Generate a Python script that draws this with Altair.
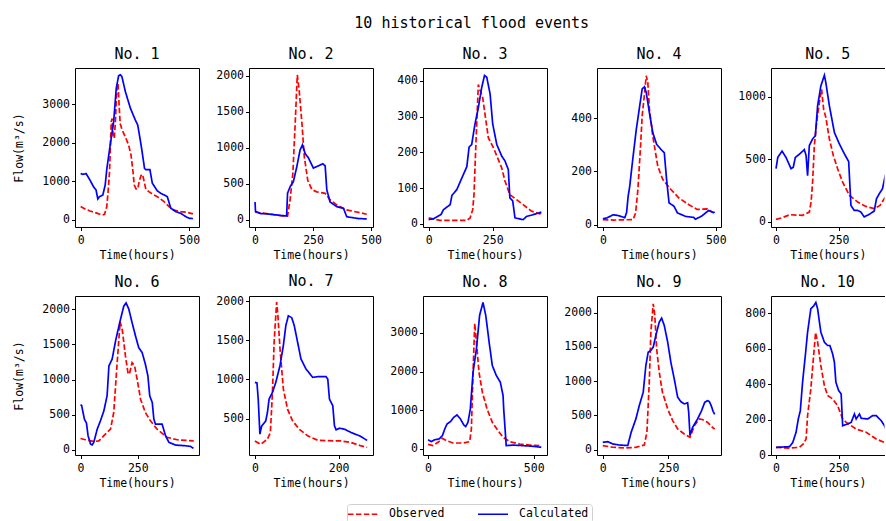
import altair as alt
import pandas as pd

FONT = "DejaVu Sans Mono"
SERIES = ["Observed", "Calculated"]
COLORS = ["#ff0000", "#0000ff"]
DASHES = [[5.5, 2.4], [1, 0]]

# ---- data (hours, m3/s) ----
E1_obs_t = [0, 20, 43, 75, 97, 110, 120, 126, 133, 141, 145, 150, 155, 160, 167, 172, 177, 182, 190, 206, 221, 232, 241, 247, 255, 263, 270, 278, 285, 291, 300, 314, 335, 353, 384, 407, 430, 461, 492, 517]
E1_obs_q = [340, 280, 225, 170, 120, 140, 330, 700, 1250, 2550, 2630, 2150, 2120, 2550, 3450, 3540, 3000, 2500, 2350, 2150, 1940, 1680, 1250, 900, 800, 800, 1000, 1150, 1180, 1030, 800, 730, 650, 600, 470, 340, 250, 210, 190, 150]
E1_calc_t = [0, 10, 20, 25, 43, 59, 71, 79, 87, 102, 113, 121, 136, 152, 164, 175, 183, 190, 206, 229, 252, 263, 272, 283, 294, 300, 319, 330, 353, 368, 399, 415, 438, 461, 484, 500, 517]
E1_calc_q = [1200, 1180, 1190, 1200, 1030, 860, 770, 540, 600, 640, 900, 1340, 1940, 2550, 3420, 3745, 3770, 3720, 3330, 2900, 2590, 2460, 2160, 1770, 1335, 1300, 1300, 950, 750, 690, 600, 300, 210, 165, 80, 35, 30]

E2_obs_t = [0, 50, 108, 140, 151, 163, 173, 182, 190, 202, 212, 227, 245, 266, 302, 323, 352, 395, 453, 481]
E2_obs_q = [110, 90, 60, 55, 280, 650, 1340, 2010, 1800, 1340, 880, 550, 420, 390, 370, 280, 210, 140, 100, 80]
E2_calc_t = [0, 2, 22, 50, 93, 136, 140, 151, 165, 180, 194, 204, 216, 230, 251, 273, 292, 302, 309, 323, 352, 381, 395, 445, 481]
E2_calc_q = [250, 120, 90, 85, 70, 55, 370, 460, 530, 740, 970, 1040, 920, 860, 720, 750, 780, 750, 420, 250, 185, 160, 45, 20, 15]

E3_obs_t = [0, 45, 149, 162, 172, 177, 185, 194, 200, 211, 220, 233, 253, 272, 285, 298, 317, 343, 369, 401, 434, 440]
E3_obs_q = [17, 10, 10, 17, 40, 82, 232, 390, 375, 353, 307, 241, 213, 180, 157, 120, 82, 68, 54, 36, 28, 30]
E3_calc_t = [0, 20, 48, 58, 84, 91, 110, 130, 149, 158, 168, 181, 194, 207, 218, 227, 240, 250, 266, 285, 298, 311, 317, 328, 337, 369, 382, 408, 440]
E3_calc_q = [12, 15, 26, 40, 54, 80, 96, 129, 160, 215, 222, 280, 325, 381, 415, 410, 363, 280, 222, 190, 176, 152, 73, 65, 17, 12, 21, 26, 33]

E4_obs_t = [0, 46, 134, 145, 155, 166, 174, 185, 192, 199, 206, 221, 243, 265, 301, 337, 381, 417, 461, 490]
E4_obs_q = [19, 17, 19, 44, 132, 283, 409, 497, 560, 535, 434, 333, 220, 170, 132, 100, 75, 57, 59, 45]
E4_calc_t = [0, 17, 46, 68, 97, 105, 112, 119, 134, 148, 163, 174, 184, 192, 206, 221, 238, 257, 272, 282, 293, 315, 330, 366, 402, 410, 439, 468, 490, 495]
E4_calc_q = [22, 25, 37, 34, 26, 45, 107, 145, 258, 358, 446, 510, 518, 497, 421, 346, 302, 283, 270, 170, 82, 69, 44, 31, 27, 20, 33, 53, 45, 48]

E5_obs_t = [0, 21, 55, 106, 133, 140, 146, 153, 162, 173, 182, 190, 199, 213, 229, 246, 266, 293, 326, 359, 392, 415, 432, 445, 457]
E5_obs_q = [21, 32, 58, 53, 79, 159, 317, 609, 794, 952, 1058, 900, 833, 662, 529, 424, 317, 212, 159, 124, 106, 132, 185, 230, 260]
E5_calc_t = [0, 7, 24, 40, 60, 69, 77, 93, 113, 120, 126, 133, 146, 157, 166, 179, 193, 199, 213, 233, 253, 273, 290, 299, 312, 325, 339, 352, 372, 392, 401, 412, 425, 436, 447, 457]
E5_calc_q = [425, 515, 565, 515, 425, 437, 515, 540, 577, 530, 370, 610, 662, 688, 926, 1085, 1170, 1110, 926, 714, 622, 543, 482, 132, 93, 93, 79, 40, 61, 87, 185, 225, 265, 371, 430, 470]

E6_obs_t = [0, 22, 58, 80, 102, 131, 145, 160, 173, 182, 196, 208, 215, 225, 236, 247, 262, 283, 305, 334, 378, 422, 494]
E6_obs_q = [160, 142, 118, 125, 200, 294, 530, 1241, 1820, 1715, 1336, 1076, 1100, 1240, 1194, 1005, 720, 530, 412, 294, 176, 142, 125]
E6_calc_t = [0, 5, 17, 26, 33, 44, 51, 58, 73, 87, 102, 116, 124, 138, 153, 171, 189, 199, 211, 225, 240, 254, 269, 283, 294, 302, 313, 320, 327, 356, 371, 386, 415, 458, 480, 493]
E6_calc_q = [640, 630, 436, 380, 200, 80, 70, 105, 294, 412, 554, 768, 1194, 1290, 1549, 1810, 2047, 2090, 2000, 1810, 1620, 1454, 1383, 1218, 1052, 768, 673, 436, 365, 365, 199, 104, 66, 57, 47, 20]

E7_obs_t = [0, 14, 30, 37, 42, 46, 52, 55, 60, 68, 78, 90, 106, 126, 150, 190, 206, 230, 254, 268]
E7_obs_q = [213, 170, 235, 320, 834, 1477, 1990, 1820, 1391, 877, 620, 470, 363, 278, 222, 213, 213, 192, 149, 130]
E7_calc_t = [0, 5, 8, 12, 16, 26, 30, 34, 42, 50, 60, 68, 74, 80, 88, 94, 102, 110, 122, 138, 150, 170, 174, 178, 186, 190, 194, 202, 214, 230, 250, 268]
E7_calc_q = [963, 955, 750, 300, 400, 470, 577, 750, 834, 963, 1177, 1434, 1691, 1815, 1790, 1691, 1477, 1263, 1134, 1027, 1035, 1035, 1006, 750, 663, 406, 355, 376, 363, 320, 278, 220]

E8_obs_t = [0, 23, 47, 68, 87, 118, 166, 197, 205, 213, 221, 229, 241, 257, 279, 304, 331, 355, 386, 434, 481, 528]
E8_obs_q = [120, 86, 172, 276, 215, 155, 155, 189, 518, 1987, 3250, 2766, 1987, 1469, 1037, 691, 475, 302, 189, 129, 103, 86]
E8_calc_t = [0, 16, 32, 52, 68, 79, 90, 106, 122, 137, 153, 169, 178, 189, 200, 213, 229, 244, 260, 273, 289, 304, 323, 342, 355, 358, 370, 401, 449, 496, 536]
E8_calc_q = [240, 190, 240, 260, 345, 518, 648, 709, 820, 880, 777, 622, 579, 691, 1037, 1987, 2593, 3457, 3790, 3457, 2766, 2160, 1901, 1728, 1383, 1037, 86, 100, 86, 69, 43]

E9_obs_t = [0, 38, 89, 126, 158, 168, 177, 183, 192, 198, 205, 215, 227, 247, 266, 285, 310, 332, 349, 368, 379, 398, 417, 426]
E9_obs_q = [59, 35, 25, 34, 68, 253, 985, 1717, 2130, 1961, 1473, 1132, 839, 595, 424, 303, 229, 180, 351, 449, 440, 400, 327, 300]
E9_calc_t = [0, 19, 38, 63, 95, 108, 126, 139, 154, 164, 173, 183, 192, 202, 215, 224, 234, 247, 259, 272, 285, 297, 310, 323, 327, 332, 342, 361, 375, 388, 398, 405, 412, 420, 426]
E9_calc_q = [107, 117, 83, 68, 60, 253, 449, 644, 839, 1229, 1424, 1449, 1497, 1668, 1863, 1920, 1814, 1571, 1278, 1034, 766, 702, 668, 683, 546, 205, 327, 449, 560, 690, 715, 705, 650, 560, 515]

E10_obs_t = [0, 54, 93, 109, 120, 126, 139, 149, 158, 166, 179, 193, 206, 226, 246, 266, 280, 320, 360, 400, 433, 457]
E10_obs_q = [43, 39, 43, 62, 90, 222, 373, 542, 690, 636, 504, 391, 335, 316, 278, 203, 184, 146, 128, 90, 71, 55]
E10_calc_t = [0, 54, 67, 80, 89, 97, 106, 117, 126, 139, 150, 159, 166, 179, 193, 206, 215, 226, 233, 239, 250, 260, 266, 286, 300, 313, 320, 333, 340, 366, 386, 400, 420, 433, 445, 457]
E10_calc_q = [43, 47, 71, 128, 203, 250, 410, 561, 692, 824, 839, 860, 824, 692, 636, 617, 617, 570, 523, 410, 363, 344, 165, 175, 184, 231, 203, 231, 207, 203, 222, 222, 193, 165, 120, 100]

EVENTS = [
    (E1_obs_t, E1_obs_q, E1_calc_t, E1_calc_q),
    (E2_obs_t, E2_obs_q, E2_calc_t, E2_calc_q),
    (E3_obs_t, E3_obs_q, E3_calc_t, E3_calc_q),
    (E4_obs_t, E4_obs_q, E4_calc_t, E4_calc_q),
    (E5_obs_t, E5_obs_q, E5_calc_t, E5_calc_q),
    (E6_obs_t, E6_obs_q, E6_calc_t, E6_calc_q),
    (E7_obs_t, E7_obs_q, E7_calc_t, E7_calc_q),
    (E8_obs_t, E8_obs_q, E8_calc_t, E8_calc_q),
    (E9_obs_t, E9_obs_q, E9_calc_t, E9_calc_q),
    (E10_obs_t, E10_obs_q, E10_calc_t, E10_calc_q),
]

X_DOMAINS = [[-26, 545], [-26, 508], [-22, 462], [-26, 523], [-20, 433],
             [-24, 517], [-14, 282], [-24, 563], [-22, 450], [-20, 433]]
Y_DOMAINS = [[-190, 3945], [-97, 2106], [-8.5, 436], [-9, 589], [-40, 1228],
             [-75, 2189], [33, 2068], [-156, 3957], [-78, 2243], [0, 896]]
X_TICKS = [[0, 500], [0, 250, 500], [0, 250], [0, 500], [0, 250],
           [0, 250], [0, 200], [0, 500], [0, 250], [0, 250]]
Y_TICKS = [[0, 1000, 2000, 3000], [0, 500, 1000, 1500, 2000], [0, 100, 200, 300, 400],
           [0, 200, 400], [0, 500, 1000], [0, 500, 1000, 1500, 2000],
           [500, 1000, 1500, 2000], [0, 1000, 2000, 3000], [0, 500, 1000, 1500, 2000],
           [0, 200, 400, 600, 800]]

W, H = 124, 159
W_LAST = 113.5  # last column is cut by the figure edge

legend_opts = dict(
    orient="none", legendX=272, legendY=436, direction="horizontal", title=None,
    symbolType="M-2.5,0L2.5,0", symbolSize=144, symbolStrokeWidth=1.6,
    symbolOffset=6, labelOffset=19, columnPadding=29,
    labelFont=FONT, labelFontSize=11.5, labelColor="black",
    padding=3, strokeColor="#d0d0d0", fillColor="white", cornerRadius=3,
)


def panel(i):
    ot, oq, ct, cq = EVENTS[i]
    last = (i % 5 == 4)
    w = W_LAST if last else W
    df = pd.DataFrame({
        "t": list(ot) + list(ct),
        "q": list(oq) + list(cq),
        "series": ["Observed"] * len(ot) + ["Calculated"] * len(ct),
    })
    ytitle = "Flow(m³/s)" if i % 5 == 0 else None
    base = alt.Chart(df).mark_line(strokeWidth=1.7, clip=True).encode(
        x=alt.X("t:Q", scale=alt.Scale(domain=X_DOMAINS[i], nice=False, zero=False),
                axis=alt.Axis(values=X_TICKS[i], title="Time(hours)", format="d")),
        y=alt.Y("q:Q", scale=alt.Scale(domain=Y_DOMAINS[i], nice=False, zero=False),
                axis=alt.Axis(values=Y_TICKS[i], title=ytitle, format="d")),
        color=alt.Color("series:N", scale=alt.Scale(domain=SERIES, range=COLORS),
                        legend=alt.Legend(**legend_opts)),
        strokeDash=alt.StrokeDash("series:N", scale=alt.Scale(domain=SERIES, range=DASHES),
                                  legend=alt.Legend(**legend_opts)),
    )
    layers = [base.transform_filter(alt.datum.series == "Observed"),
              base.transform_filter(alt.datum.series == "Calculated")]
    props = dict(
        width=w, height=H,
        title=alt.TitleParams(f"No. {i + 1}", fontSize=15, font=FONT,
                              fontWeight="normal", offset=6, anchor="middle"),
    )
    if last:
        # frame drawn on top, bottom and left only: the right side is cut off
        props["view"] = alt.ViewBackground(
            stroke="black", strokeWidth=1,
            strokeDash=[w, H, w + H + 1, 1],
        )
    return alt.layer(*layers).properties(**props)


chart = alt.concat(*[panel(i) for i in range(10)], columns=5).properties(
    bounds="flush",
    spacing={"row": 69, "column": 50},
    title=alt.TitleParams("10 historical flood events", fontSize=15, font=FONT,
                          fontWeight="normal", anchor="middle", offset=16,
                          frame="bounds", dx=23),
    padding={"left": 12, "top": 15, "right": 0, "bottom": 0},
    background="white",
).configure_view(
    stroke="black", strokeWidth=1
).configure_axis(
    domain=False, grid=False,
    tickColor="black", tickSize=3.5,
    labelColor="black", titleColor="black", labelFont=FONT, titleFont=FONT,
    labelFontSize=11.5, titleFontSize=11.5, titleFontWeight="normal",
    labelPadding=2,
).configure_axisX(
    labelPadding=4, titlePadding=3, labelFlush=False
).configure_axisY(
    minExtent=34, maxExtent=34, titlePadding=17, labelFlush=False
).configure_title(
    font=FONT, fontSize=15, fontWeight="normal", color="black"
)

chart.save("out.html", embed_options={"renderer": "svg", "actions": False})
